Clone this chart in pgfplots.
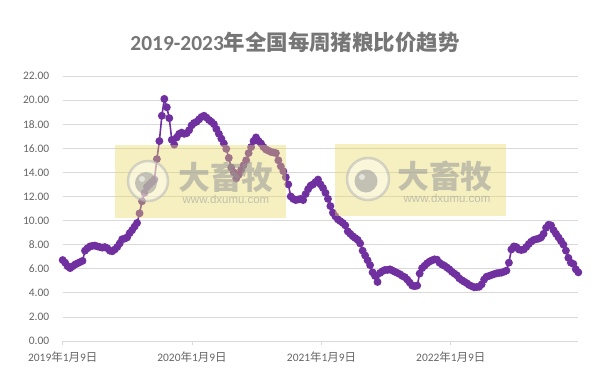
\documentclass[border=0pt]{standalone}
\usepackage{pgfplots}
\pgfplotsset{compat=1.18}
\usepackage{fontspec}
\setmainfont{Carlito}
\newfontfamily\cjk{Noto Sans CJK SC}
\newfontfamily\wmfont{Liberation Sans}
\definecolor{linec}{RGB}{112,48,160}
\definecolor{gridc}{RGB}{217,217,217}
\definecolor{tickc}{RGB}{100,100,100}
\definecolor{titlec}{RGB}{118,118,118}
\definecolor{wmy}{RGB}{232,218,100}
\definecolor{wmg}{RGB}{150,150,150}
\begin{document}
\begin{tikzpicture}[x=1bp,y=1bp]
\useasboundingbox (0,0) rectangle (601,378);
\begin{axis}[
  at={(62.7bp,37bp)}, anchor=south west,
  scale only axis, width=515.6bp, height=265bp,
  xmin=0, xmax=208, ymin=0, ymax=22,
  axis x line*=bottom, axis y line*=left,
  x axis line style={draw=gridc, line width=0.75bp},
  y axis line style={draw=none},
  ytick={0,2,...,22}, ytick style={draw=none},
  ymajorgrids, grid style={draw=gridc, line width=0.75bp},
  xtick={0,52.14,104.43,156.57},
  xticklabels={2019{\cjk 年}1{\cjk 月}9{\cjk 日},2020{\cjk 年}1{\cjk 月}9{\cjk 日},2021{\cjk 年}1{\cjk 月}9{\cjk 日},2022{\cjk 年}1{\cjk 月}9{\cjk 日}},
  xtick align=outside, major tick length=4bp,
  xtick style={draw=gridc, line width=0.75bp},
  tick label style={font=\fontsize{11.5}{13}\selectfont, text=tickc},
  xticklabel style={yshift=-3bp},
  yticklabel style={xshift=-10bp},
  /pgf/number format/assume math mode=true,
  yticklabel={\pgfmathprintnumber[fixed,fixed zerofill,precision=2]{\tick}},
  clip=false,
]
\addplot[color=linec, line width=1.6bp, mark=*, mark size=3.1bp, mark options={fill=linec, draw=linec}] table {
x y
0 6.72
1 6.5
2 6.2
3 6.05
4 6.2
5 6.35
6 6.45
7 6.55
8 6.65
9 7.5
10 7.7
11 7.85
12 7.9
13 7.92
14 7.85
15 7.8
16 7.75
17 7.8
18 7.7
19 7.5
20 7.45
21 7.6
22 7.8
23 8.1
24 8.45
25 8.5
26 8.6
27 8.95
28 9.2
29 9.5
30 9.8
31 10.6
32 11.6
33 12.3
34 12.8
35 13.0
36 13.2
37 13.4
38 15.1
39 16.6
40 18.7
41 20.1
42 19.4
43 18.5
44 16.7
45 16.3
46 16.9
47 17.2
48 17.3
49 17.2
50 17.25
51 17.5
52 17.9
53 18.1
54 18.2
55 18.4
56 18.6
57 18.7
58 18.55
59 18.35
60 18.2
61 18.0
62 17.6
63 17.2
64 16.8
65 16.4
66 15.95
67 15.2
68 14.4
69 14.0
70 13.5
71 13.8
72 14.2
73 14.6
74 15.0
75 15.6
76 16.1
77 16.6
78 16.9
79 16.6
80 16.4
81 16.1
82 15.9
83 15.8
84 15.7
85 15.65
86 15.6
87 15.0
88 14.5
89 14.1
90 13.6
91 13.0
92 12.0
93 11.8
94 11.7
95 11.75
96 11.8
97 11.7
98 12.2
99 12.6
100 12.9
101 13.0
102 13.2
103 13.4
104 13.0
105 12.7
106 12.3
107 11.8
108 11.2
109 10.65
110 10.35
111 10.1
112 9.95
113 9.8
114 9.6
115 9.1
116 8.9
117 8.7
118 8.55
119 8.4
120 8.1
121 7.5
122 7.1
123 6.7
124 6.3
125 5.7
126 5.4
127 4.9
128 5.65
129 5.8
130 5.9
131 5.9
132 5.95
133 5.85
134 5.75
135 5.65
136 5.55
137 5.4
138 5.3
139 5.1
140 4.85
141 4.6
142 4.55
143 4.6
144 5.6
145 6.05
146 6.25
147 6.45
148 6.6
149 6.7
150 6.78
151 6.75
152 6.5
153 6.35
154 6.25
155 6.1
156 5.95
157 5.75
158 5.6
159 5.45
160 5.2
161 5.05
162 4.92
163 4.8
164 4.65
165 4.55
166 4.46
167 4.48
168 4.5
169 4.7
170 5.1
171 5.34
172 5.4
173 5.48
174 5.55
175 5.62
176 5.65
177 5.67
178 5.75
179 5.84
180 6.5
181 7.6
182 7.85
183 7.8
184 7.6
185 7.55
186 7.6
187 7.8
188 8.05
189 8.25
190 8.39
191 8.45
192 8.5
193 8.6
194 8.9
195 9.4
196 9.65
197 9.6
198 9.2
199 8.9
200 8.6
201 8.3
202 8.0
203 7.5
204 6.9
205 6.5
206 6.4
207 5.95
208 5.7
};
\end{axis}
% title
\node[font=\fontsize{21.5}{25}\selectfont\bfseries, text=titlec] at (295,336) {2019-2023{\cjk\bfseries 年全国每周猪粮比价趋势}};
% watermarks
\fill[wmy, fill opacity=0.4] (115,160) rectangle (286,233);
\fill[wmy, fill opacity=0.4] (335,162) rectangle (506,234);
\begin{scope}[opacity=0.55]
\draw[wmg!70, line width=2.5bp, fill=white, fill opacity=0.4] (148,197) circle (20);
\fill[wmg] (146,195) circle (11);
\fill[white] (142,199) circle (3);
\draw[wmg!70, line width=2.5bp, fill=white, fill opacity=0.4] (368,199) circle (21);
\fill[wmg] (366,197) circle (11.5);
\fill[white] (362,201) circle (3);
\node[font=\fontsize{32}{34}\selectfont\cjk\bfseries, text=wmg, inner sep=0] at (226,201) {大畜牧};
\node[font=\fontsize{11.5}{13}\selectfont\wmfont, text=wmg, inner sep=0] at (226,179) {www.dxumu.com};
\node[font=\fontsize{32}{34}\selectfont\cjk\bfseries, text=wmg, inner sep=0] at (445,202) {大畜牧};
\node[font=\fontsize{11.5}{13}\selectfont\wmfont, text=wmg, inner sep=0] at (447,180) {www.dxumu.com};
\end{scope}
\end{tikzpicture}
\end{document}
